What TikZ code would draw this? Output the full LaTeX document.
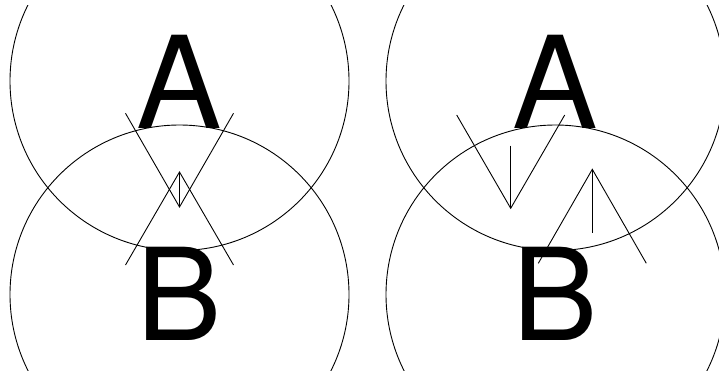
\documentclass[tikz,border=0pt]{standalone}
\usepackage{fontspec}
\setmainfont{TeX Gyre Heros}
\begin{document}
\begin{tikzpicture}[x=1pt,y=-1pt,
  thin line/.style={line width=0.9pt,draw=black},
  letter/.style={anchor=base,inner sep=0pt,font=\fontsize{128}{128}\selectfont}]
\useasboundingbox (0,0) rectangle (719,373);
\begin{scope}
\clip (0,5) rectangle (719,370);
% left panel
\draw[thin line] (179.5,81) circle (169.5pt);
\draw[thin line] (179.5,294.5) circle (169.5pt);
% right panel
\draw[thin line] (555.5,81) circle (169.5pt);
\draw[thin line] (555.5,294.5) circle (169.5pt);
\end{scope}
\node[letter] (A1) at (179.5,128) {A};
\node[letter] (B1) at (179.5,340) {B};
\node[letter] (A2) at (555.5,128) {A};
\node[letter] (B2) at (555.5,340) {B};
% left panel marks
\coordinate (lv) at (179.5,207);
\coordinate (lw) at (179.5,172);
\draw[thin line] (125.5,113.3) -- (lv) -- (233.5,113.3);
\draw[thin line] (lw) -- (lv);
\draw[thin line] (125.5,265) -- (lw) -- (233.5,265);
% right panel marks
\coordinate (rv) at (510.7,208.3);
\coordinate (rvt) at (510.7,145.7);
\draw[thin line] (456.7,115) -- (rv) -- (564.7,115);
\draw[thin line] (rvt) -- (rv);
\coordinate (rw) at (592.3,169.3);
\coordinate (rwb) at (592.3,232.7);
\draw[thin line] (538.3,263.3) -- (rw) -- (646.3,263.3);
\draw[thin line] (rw) -- (rwb);
\end{tikzpicture}
\end{document}
